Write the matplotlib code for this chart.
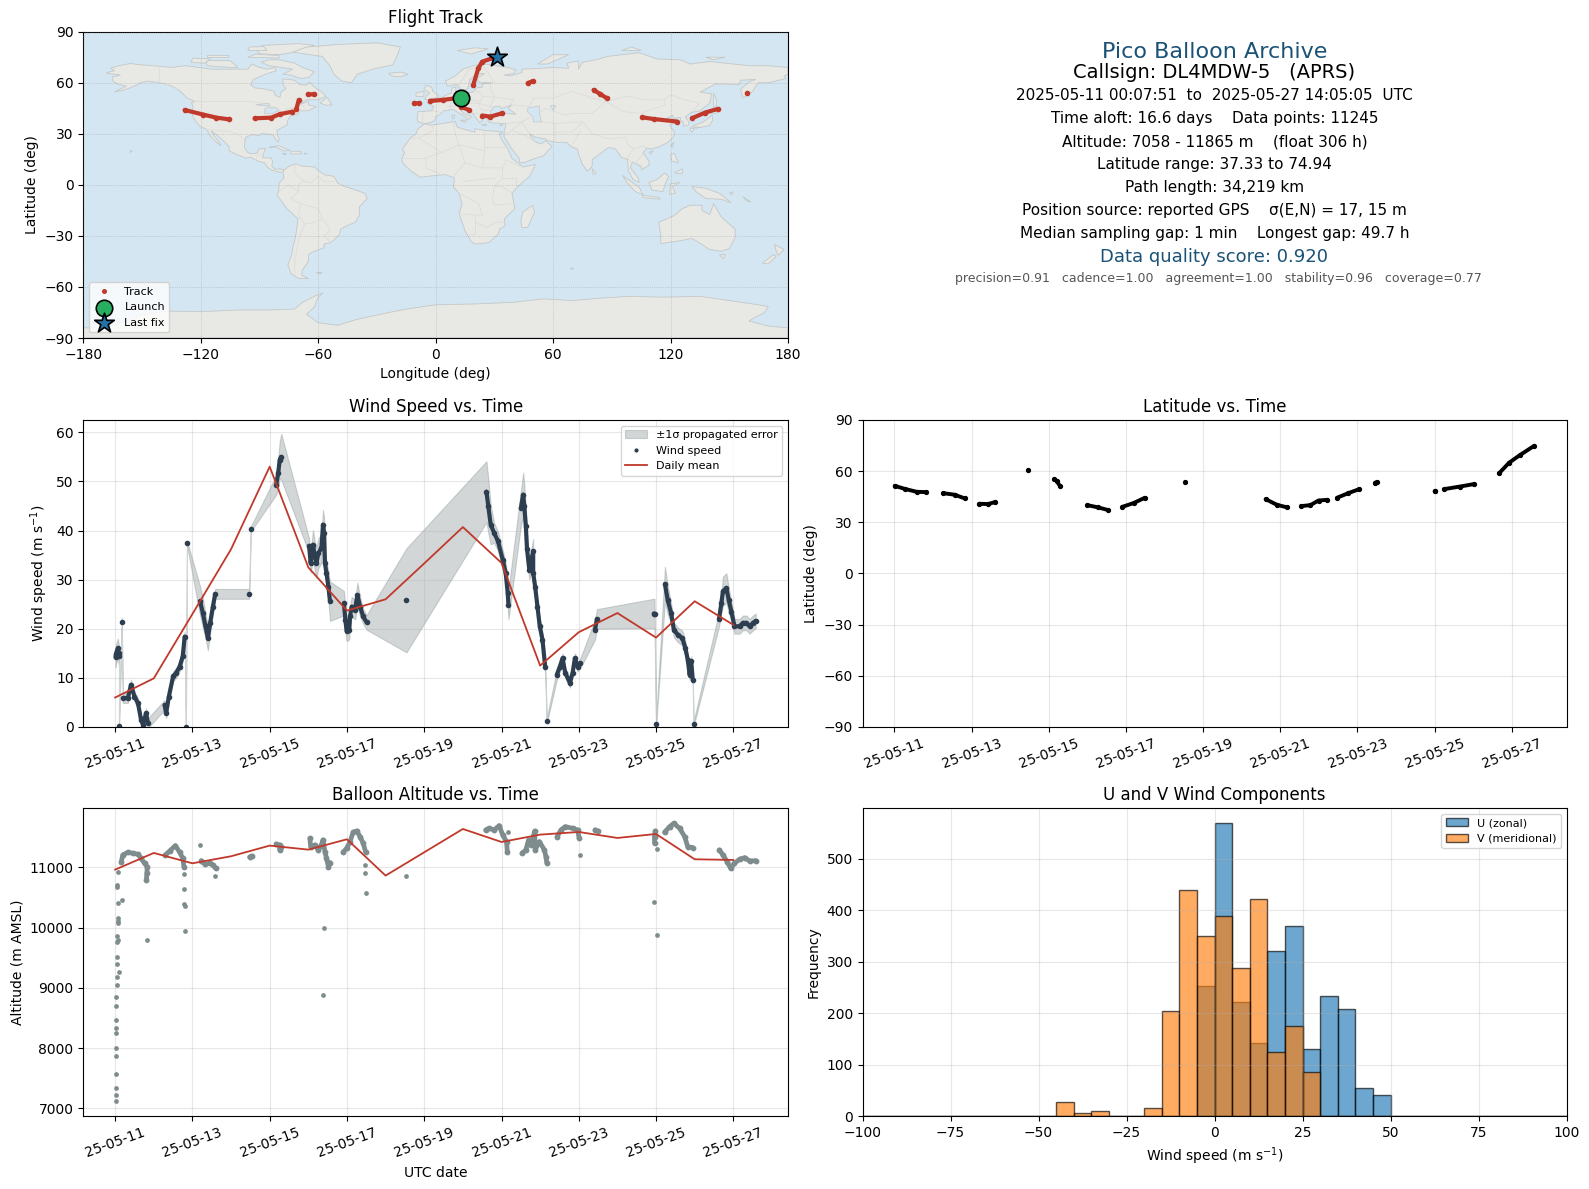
"""
Pico balloon flight summary panels for DL4MDW-5
"""

from datetime import datetime

import matplotlib

matplotlib.use("Agg")
import matplotlib.dates as mdates
import matplotlib.pyplot as plt
import numpy as np
from matplotlib.patches import Polygon

nan = float("nan")

# ---- flight track (deg), nan splits the runs of fixes ----
track_lon = [
    -128.2, -118.8, -112, -105.6, nan, -92.5, -84, -79.7, -73.3, nan, -71.2, -69.9, nan,
    -65.3, -61.9, nan, -10.9, -8.3, nan, -2.9, 3.6, 12.9, 12.7, 17, nan, 23.8, 28, 33.7, nan,
    19.2, 21.8, 23.8, 28.9, 31.4, nan, 47, 49.6, nan, 80.7, 84, 87.5, nan, 105.4, 111.3, 123.2, nan,
    130.9, 137.7, 144.1, nan, 158.9,
]
track_lat = [
    44, 41.3, 39.5, 38.5, nan, 39.1, 39.5, 41.5, 43, nan, 44.4, 49.9, nan,
    53.2, 53.2, nan, 47.9, 47.9, nan, 49.3, 49.9, 51.3, 46, 44, nan, 40.7, 40.1, 42, nan,
    58.7, 68.5, 72.4, 74.4, 74.9, nan, 59.7, 61, nan, 55.8, 53.4, 50.9, nan, 39.7, 38.7, 37.2, nan,
    39.1, 42.5, 44.6, nan, 53.8,
]
launch = (12.8, 51.3)
last_fix = (31.4, 74.9)

# ---- wind speed, days after 2025-05-11 00:00 UTC ----
wind_days = [
    0.01, 0.02, 0.05, 0.07, 0.09, 0.1, nan, 0.1, nan, 0.17, nan,
    0.2, 0.33, 0.41, 0.5, 0.59, 0.67, 0.72, 0.8, 0.85, nan,
    1.28, 1.32, 1.39, 1.5, 1.58, 1.67, 1.75, 1.8, nan, 1.83, nan, 1.86, nan,
    2.2, 2.27, 2.34, 2.4, 2.46, 2.53, 2.59, nan, 3.47, nan, 3.51, nan,
    4.17, 4.22, 4.26, 4.3, nan,
    5.02, 5.06, 5.12, 5.17, 5.21, 5.26, 5.34, 5.38, 5.41, 5.43, 5.47, 5.52, 5.56, nan,
    5.92, 5.96, 5.99, 6.06, 6.08, 6.12, 6.21, 6.27, 6.34, 6.42, 6.51, nan, 7.54, nan,
    9.61, 9.66, 9.72, 9.81, 9.91, 10.03, 10.11, 10.16, 10.18, nan,
    10.5, 10.56, 10.59, 10.63, 10.66, 10.72, 10.82, 10.82, 10.87, 10.93, 10.99, 11.06, 11.13, nan,
    11.17, nan, 11.43, 11.51, 11.58, 11.65, 11.77, 11.84, 11.9, 11.97, 12.04, nan,
    12.42, 12.47, nan, 13.94, 13.96, nan, 14.0, nan,
    14.23, 14.3, 14.39, 14.46, 14.56, 14.68, 14.76, 14.82, 14.87, 14.91, 14.95, nan, 14.97, nan,
    15.63, 15.69, 15.73, 15.82, 15.88, 15.95, 16.03, 16.16, 16.25, 16.34, 16.42, 16.51, 16.58,
]
wind_speed = [
    14.2, 14.8, 15.5, 16, 15, 14.5, nan, 0.2, nan, 21.3, nan,
    5.9, 5.9, 8.6, 6.2, 4.9, 1.5, 0.5, 2.8, 0.8, nan,
    4.5, 2.8, 6.2, 10.3, 11, 12.3, 14.4, 18.4, nan, 0.1, nan, 37.4, nan,
    25.6, 23.2, 20.5, 18.1, 21.2, 24.5, 27.1, nan, 27.1, nan, 40.3, nan,
    49.3, 51.7, 54.4, 55, nan,
    36.9, 33.4, 37.1, 34.7, 33.4, 35.4, 36.4, 41.2, 39.5, 33.4, 31.3, 28.6, 25.6, nan,
    25.2, 21.8, 19.5, 19.8, 22.5, 24.5, 23.9, 26.9, 24.5, 22.5, 21.3, nan, 25.8, nan,
    47.9, 44.9, 41.2, 39.5, 37.8, 34.1, 31.3, 27.3, 24.9, nan,
    44.5, 47.3, 44.9, 40.9, 36.2, 32, 35.8, 31.3, 28.6, 24.5, 20.5, 17.8, 12.3, nan,
    1.2, nan, 10.6, 12.3, 14, 11, 9, 11, 14, 12.3, 13, nan,
    19.8, 22, nan, 23.1, 23.1, nan, 0.6, nan,
    29.1, 25.9, 23.2, 19.8, 18.8, 18.1, 16, 13.7, 10.6, 13.4, 9.6, nan, 0.6, nan,
    22, 25.2, 27.6, 28.3, 25.9, 23.5, 20.5, 20.5, 21.2, 21.2, 20.5, 21.2, 21.6,
]
wind_sigma = [
    2, 2, 2, 2, 2, 2, nan, 0.5, nan, 1, nan,
    1, 1, 1, 1, 1, 1, 1, 1, 1, nan,
    1, 1, 1, 1, 1, 1, 1, 1, nan, 0.5, nan, 0.5, nan,
    3, 3, 2.5, 2.5, 2, 1.5, 1, nan, 1, nan, 0.5, nan,
    2, 3, 3.8, 4.7, nan,
    1.5, 2, 3, 3, 3, 3, 3, 3, 3, 2.5, 2.5, 3, 4, nan,
    2.5, 2.5, 2, 2, 2, 2, 2, 2.5, 2, 1.5, 1.5, nan, 10.6, nan,
    6.2, 5.5, 4, 2, 2, 2, 2, 2.5, 3, nan,
    3.5, 4.5, 4.5, 4, 3, 2, 2.5, 2, 1.5, 1.5, 1.5, 1.5, 1.5, nan,
    0.5, nan, 1, 1, 1, 1, 1, 1, 1, 1, 1, nan,
    2, 2, nan, 3, 3, nan, 0.5, nan,
    3.5, 3, 2, 1.5, 1.5, 1.5, 1.5, 1, 1, 1, 1, nan, 0.5, nan,
    1.5, 2, 3, 3, 2.5, 2, 1.5, 1.5, 1.5, 1.5, 1.5, 1.5, 1.5,
]
daily_days = [0, 1, 2, 3, 4, 5, 6, 7, 8, 9, 10, 11, 12, 13, 14, 15, 16]
daily_wind = [6, 9.9, 23, 36.2, 53, 32.5, 23.7, 26, 33.3, 40.7, 33.4, 12.5, 19.3, 23.2, 18.2, 25.6, 20.8]

# ---- latitude ----
lat_days = [
    0.01, 0.29, 0.58, 0.83, nan, 1.27, 1.56, 1.83, nan, 2.2, 2.43, 2.61, nan, 3.46, nan,
    4.15, 4.21, 4.29, nan, 5.0, 5.27, 5.54, nan, 5.91, 6.2, 6.49, nan, 7.52, nan,
    9.62, 9.91, 10.17, nan, 10.54, 10.78, 10.99, 11.22, nan, 11.47, 11.76, 12.05, nan, 12.46, 12.5, nan,
    14.0, 14.02, nan, 14.25, 14.66, 15.01, nan, 15.67, 15.93, 16.22, 16.58,
]
lat_deg = [
    51.4, 49.5, 47.9, 47.7, nan, 47.1, 46.2, 44, nan, 40.9, 40.7, 41.9, nan, 60.4, nan,
    55.5, 54, 51.4, nan, 40.1, 38.8, 37.2, nan, 39.1, 41.3, 44.4, nan, 53.6, nan,
    43.6, 40.3, 38.8, nan, 39.5, 40.1, 42.8, 43.2, nan, 44.4, 47.1, 49.5, nan, 53.3, 53.5, nan,
    48.2, 48.4, nan, 49.5, 51, 52.4, nan, 58.8, 65, 69.6, 74.9,
]

# ---- altitude: continuous runs, then the scattered fixes ----
alt_days = [
    0.16, 0.2, 0.33, 0.46, 0.59, 0.67, 0.76, 0.83, 0.82, 0.81, nan,
    1.3, 1.41, 1.56, 1.67, 1.75, 1.78, nan, 2.23, 2.32, 2.45, 2.53, 2.6, nan,
    3.48, 3.53, nan, 4.17, 4.26, 4.26, 4.3, nan,
    5.04, 5.06, 5.17, 5.26, 5.34, 5.38, 5.43, 5.47, 5.52, 5.56, nan,
    5.9, 5.99, 6.08, 6.16, 6.25, 6.34, 6.42, 6.48, nan,
    9.59, 9.68, 9.81, 9.94, 10.03, 10.13, 10.15, nan,
    10.53, 10.63, 10.7, 10.76, 10.86, 10.87, 10.98, 11.11, 11.15, 11.17, nan,
    11.44, 11.54, 11.65, 11.84, 11.97, 12.01, nan, 12.42, 12.49, nan,
    13.98, 13.96, 13.96, nan, 14.22, 14.35, 14.46, 14.61, 14.74, 14.82, 14.95, nan,
    15.64, 15.73, 15.84, 15.93, 16.03, 16.16, 16.29, 16.42, 16.58,
]
alt_m = [
    11094, 11205, 11249, 11232, 11216, 11149, 11066, 11011, 10900, 10790, nan,
    11205, 11271, 11360, 11249, 11149, 11011, nan, 11110, 11050, 11066, 11039, 10983, nan,
    11171, 11188, nan, 11387, 11370, 11288, 11343, nan,
    11481, 11343, 11370, 11288, 11370, 11454, 11260, 11149, 11011, 11077, nan,
    11249, 11315, 11426, 11581, 11603, 11509, 11398, 11260, nan,
    11620, 11647, 11620, 11692, 11537, 11426, 11260, nan,
    11232, 11288, 11454, 11370, 11603, 11288, 11426, 11288, 11177, 11077, nan,
    11509, 11620, 11675, 11647, 11620, 11481, nan, 11620, 11603, nan,
    11603, 11509, 11398, nan, 11581, 11675, 11730, 11647, 11509, 11343, 11326, nan,
    11288, 11205, 11094, 10983, 11066, 11133, 11160, 11105, 11110,
]
alt_spot_days = [
    0.01, 0.01, 0.01, 0.02, 0.02, 0.02, 0.02, 0.02, 0.02, 0.02, 0.03, 0.04, 0.05, 0.09, 0.05,
    0.05, 0.06, 0.07, 0.05, 0.07, 0.07, 0.07, 0.07, 0.17, 0.05, 0.05, 0.07, 0.82, 1.78, 1.78,
    1.78, 1.81, 1.81, 2.2, 2.58, 5.41, 5.38, 6.47, 6.47, 6.5, 7.54, 10.17, 12.02, 13.94, 14.02, 14.02,
]
alt_spot_m = [
    7116, 7215, 7332, 7564, 7863, 7996, 8244, 8328, 8460, 8693, 8842, 9041, 9174, 9257, 9390,
    9506, 9755, 9794, 9855, 10070, 10109, 10153, 10402, 10452, 10679, 10707, 10917, 9788, 10884, 10635,
    10386, 10358, 9938, 11365, 10851, 9987, 8875, 11033, 10900, 10568, 10851, 11581, 11199, 10419, 9871, 11299,
]
daily_alt = [10961, 11238, 11066, 11183, 11360, 11293, 11465, 10862, 11249, 11636, 11420, 11542, 11586, 11487, 11553, 11133, 11122]

# ---- wind components histogram ----
bin_edges = np.arange(-100, 101, 5)
u_low_edges = [-5, 0, 5, 10, 15, 20, 25, 30, 35, 40, 45]
u_counts = [253, 570, 221, 141, 321, 369, 131, 233, 207, 55, 40]
v_low_edges = [-45, -40, -35, -20, -15, -10, -5, 0, 5, 10, 15, 20, 25]
v_counts = [28, 6, 10, 16, 205, 440, 350, 388, 288, 422, 125, 175, 85]

# ---- summary text ----
summary_title = "Pico Balloon Archive"
summary_call = "Callsign: DL4MDW-5   (APRS)"
summary_lines = [
    "2025-05-11 00:07:51  to  2025-05-27 14:05:05  UTC",
    "Time aloft: 16.6 days    Data points: 11245",
    "Altitude: 7058 - 11865 m    (float 306 h)",
    "Latitude range: 37.33 to 74.94",
    "Path length: 34,219 km",
    "Position source: reported GPS    σ(E,N) = 17, 15 m",
    "Median sampling gap: 1 min    Longest gap: 49.7 h",
]
summary_score = "Data quality score: 0.920"
summary_parts = "precision=0.91   cadence=1.00   agreement=1.00   stability=0.96   coverage=0.77"

# ---- hand-traced coastlines (lon, lat) ----
land = [
    # North America
    [(-168, 66), (-164, 67), (-166, 68.5), (-162, 70), (-156, 71.3), (-150, 70.5), (-141, 69.7), (-135, 69),
     (-128, 70), (-124, 69.5), (-115, 68), (-108, 68), (-100, 68), (-96, 68), (-94, 71), (-90, 69), (-86, 68),
     (-82, 69), (-81.5, 67), (-87, 65), (-93, 62), (-94.5, 59), (-92.5, 57), (-88, 56.5), (-82.5, 55), (-82, 52.5),
     (-79.5, 51.5), (-79, 54.5), (-76.5, 56.5), (-78, 59), (-78, 62.3), (-72, 61.5), (-69.5, 59), (-66, 58.5),
     (-64.5, 60.3), (-61.5, 57), (-58, 54.5), (-56, 52), (-60, 50), (-66, 50), (-70, 47), (-65, 49), (-65, 47),
     (-61, 46), (-65, 43.5), (-70, 43.5), (-70, 41.7), (-74, 40.6), (-75.5, 38), (-76, 35), (-78, 34), (-81, 32),
     (-81, 30), (-80, 27), (-80.5, 25.2), (-82, 27), (-83, 29.2), (-85, 29.7), (-89, 30.2), (-90, 29), (-94, 29.5),
     (-97, 28), (-97.5, 25), (-97.7, 22), (-96, 19), (-94, 18.2), (-91, 18.7), (-90.5, 21), (-87, 21.5), (-88, 18),
     (-88.5, 16), (-84, 15.8), (-83.3, 14), (-83.7, 11), (-82, 9), (-79.5, 9.5), (-77.3, 8.5), (-78, 7.5), (-80, 7.5),
     (-83, 8.3), (-85.7, 10), (-87.5, 13), (-91, 14), (-94.5, 16.2), (-97, 15.8), (-102, 18), (-105.5, 20),
     (-105.5, 22.5), (-109, 26.5), (-112.5, 30), (-114.7, 31.7), (-113, 28.5), (-110, 24), (-110, 23), (-112, 25),
     (-115, 28.5), (-116.8, 32.5), (-120.5, 34.5), (-123, 38), (-124.3, 41), (-124, 46), (-124.7, 48.4), (-123, 49),
     (-127, 51), (-130, 54.5), (-133, 57), (-137, 59), (-141, 60), (-147, 61), (-151, 60), (-152, 59), (-156, 57),
     (-160, 55.5), (-164, 54.6), (-158, 58), (-162, 59), (-165, 61), (-165, 63.5), (-161, 64.5), (-168, 65.6)],
    # Arctic islands, Greenland, Iceland
    [(-80, 73.5), (-72, 71.5), (-68, 69), (-62, 66.5), (-65, 63), (-69, 62.5), (-74, 64.5), (-78, 65), (-73, 68),
     (-85, 70), (-89, 72), (-85, 73.5)],
    [(-117, 70), (-105, 69), (-101, 69), (-105, 73), (-117, 73)],
    [(-125, 72), (-118, 71.5), (-115, 74), (-124, 74.5)],
    [(-90, 77), (-80, 76.5), (-72, 78), (-62, 82), (-70, 83), (-88, 82), (-92, 80)],
    [(-96, 75), (-80, 74.5), (-80, 76), (-92, 76.8)],
    [(-117, 75), (-106, 75), (-106, 76.5), (-117, 76.5)],
    [(-96, 79), (-86, 79), (-88, 81.3), (-95, 81)],
    [(-59, 48), (-55.5, 51.5), (-53, 47), (-56, 46.8)],
    [(-73, 78), (-66, 81), (-50, 82.5), (-30, 83.5), (-18, 81), (-20, 75), (-22, 70.5), (-32, 68), (-40, 65),
     (-43, 60), (-48, 61), (-52, 65), (-54, 70), (-58, 75.5)],
    [(-24, 65.5), (-18, 66.3), (-14, 65), (-18, 63.4), (-22.5, 64)],
    # Caribbean, Hawaii
    [(-85, 22), (-80, 23), (-74.5, 20.2), (-77.5, 19.9), (-82, 22.4)],
    [(-74, 19.8), (-69, 19.7), (-68.5, 18.3), (-74, 18)],
    [(-78.3, 18.4), (-76.3, 18.2), (-77, 17.8)],
    [(-67.2, 18.5), (-65.7, 18.4), (-66.5, 18)],
    [(-156, 19), (-155, 19.8), (-156, 20.3)],
    # South America
    [(-77.5, 8.5), (-75, 11), (-71.5, 12.3), (-68, 11), (-62, 10.5), (-60, 8.5), (-57, 6), (-52, 5), (-50, 1),
     (-47, -0.7), (-41, -3), (-36, -5), (-35, -8), (-39, -13), (-39, -18), (-41, -22), (-45, -23.8), (-48.5, -26),
     (-49, -29), (-53.5, -34), (-57, -34.8), (-57, -37), (-62, -39), (-65, -41), (-65, -45), (-68, -50), (-68.5, -53),
     (-65, -55), (-70, -55), (-74, -52), (-75.5, -47), (-73.5, -41), (-73, -37), (-71.5, -30), (-70.3, -20), (-76, -14),
     (-81, -6), (-80, -2), (-80, 1), (-77.5, 4), (-78, 7.5)],
    [(-61, -51.5), (-58, -51.5), (-59, -52.3)],
    # Eurasia
    [(-9, 37), (-9.5, 39), (-9, 43), (-2, 43.5), (-1, 46), (-4.5, 48.3), (-1.5, 49), (2, 51), (4, 52), (8, 54),
     (8.5, 57), (10.5, 57.5), (10, 54.5), (14, 54), (19, 54.5), (21, 57), (24, 57.5), (23.5, 59.2), (29, 60), (23, 60),
     (21.5, 61), (21.5, 63), (25, 65.5), (22, 65.5), (17.5, 62), (17, 59.5), (16.5, 56.5), (13, 55.5), (11, 59), (6, 58),
     (5, 61), (10, 64), (14, 68), (19, 70), (25, 71), (31, 70), (37, 69), (41, 67.5), (40, 65.5), (35, 64.5), (38, 64),
     (44, 66), (44, 68), (54, 68.5), (60, 69), (68, 68.5), (67, 71.5), (73, 72.8), (73, 68), (75, 72), (82, 73.5),
     (88, 75.5), (104, 77.7), (113, 74), (125, 73.5), (130, 71), (140, 72.5), (160, 70), (170, 70), (180, 69),
     (180, 65), (178, 64), (179, 62.5), (170, 60), (165, 60), (163, 57), (162, 55), (157, 51), (155.7, 56), (160, 60.5),
     (163.5, 62), (156, 61.5), (155, 59), (143, 59.3), (135, 54.5), (141, 53.5), (140, 48), (135, 43.5), (130.5, 42.5),
     (127.5, 39.8), (129.5, 37), (129, 35), (126.5, 34.5), (126.5, 37), (125, 38), (125, 39.7), (121.5, 39), (121, 41),
     (118, 39), (119, 37.3), (122.5, 37), (119.5, 35), (122, 31), (121.5, 28), (118, 24.5), (114, 22.3), (110, 21),
     (108, 21.7), (106, 19), (109, 14), (109, 11.5), (105, 8.7), (105, 10.5), (100.5, 13.5), (99.5, 10), (103.5, 4),
     (104, 1.4), (101, 3), (98.5, 8), (98, 15), (95, 16), (92, 21), (89, 22), (87, 21), (82, 16.5), (80, 15), (80, 11),
     (77.5, 8), (75, 12), (73, 18), (72.5, 21), (69, 22.5), (67, 25), (61.5, 25), (57, 26), (56, 27), (51, 28), (48, 30),
     (50, 26), (51.5, 25), (54, 24), (56, 26), (59.5, 22.5), (55, 17), (52, 16), (45, 13), (43, 13), (42.5, 16), (39, 21),
     (35, 28), (35, 31), (36, 36), (30, 36.3), (27, 37), (26.5, 39.5), (29, 41), (35, 42), (41, 41.5), (37, 45), (39, 47),
     (35, 45.5), (33.5, 44.7), (33, 46), (30, 46), (28, 43), (28, 41), (26, 40.8), (23, 40.5), (24, 38), (22.5, 36.5),
     (19.5, 41), (19, 42), (14, 45.5), (12.5, 45), (14, 42), (18.5, 40), (16, 38), (16, 39.5), (12, 42), (9, 44.3),
     (4, 43.5), (3, 42), (0, 40), (-0.5, 38), (-2, 36.8), (-5.5, 36)],
    # Africa, Madagascar
    [(-5.5, 35.8), (-2, 35), (10, 37.3), (11, 34), (15, 32.5), (20, 31), (20, 33), (25, 32), (32, 31.3), (34.5, 31),
     (32.5, 30), (34, 26), (37, 21), (39, 15.5), (43, 12), (44.5, 10.5), (51, 12), (48, 5), (42, -1), (39, -5), (40.5, -14),
     (35, -20), (35.5, -24), (32.7, -26), (32, -29), (27, -34), (20, -34.8), (18, -33), (15, -27), (12, -17), (13.5, -11),
     (12, -5), (9, -1), (9.7, 4), (5, 6), (0, 5.5), (-4, 5), (-8, 4.5), (-13, 8.5), (-16.5, 12.5), (-17.3, 14.7), (-16, 19),
     (-17, 21), (-13, 27.5), (-10, 30), (-9, 33), (-6, 35.5)],
    [(49.5, -12), (50.5, -16), (47, -25), (44, -25), (43.5, -21), (44.5, -16)],
    # European and Arctic islands
    [(-5.5, 50), (1.5, 51.3), (1, 53), (-1.5, 55), (-2, 57.5), (-5, 58.5), (-6, 56), (-3, 54), (-5, 52)],
    [(-10, 52), (-6, 52), (-6, 55), (-10, 54)],
    [(12.5, 38), (15.5, 38), (15, 36.7)],
    [(8.3, 41), (9.7, 41), (9.5, 39), (8.5, 39)],
    [(23.5, 35.5), (26, 35.2), (24.5, 34.9)],
    [(32.5, 35), (34.5, 35.5), (33.5, 34.6)],
    [(11, 79), (20, 80.5), (27, 80), (18, 76.8)],
    [(52, 71), (57, 71), (68, 76.5), (60, 76.5)],
    [(95, 79), (105, 79), (100, 81)],
    [(138, 75), (148, 75), (142, 73.5)],
    # East Asia and the archipelagos
    [(142, 54), (143.5, 50), (143.5, 46.5), (142, 46), (142, 50)],
    [(130.9, 34), (135, 33.6), (140, 35), (141.5, 38), (141.3, 41), (139.8, 39.5), (136.5, 36.8), (132, 35)],
    [(140, 42), (141.5, 45.3), (145, 43.5), (143, 42)],
    [(130, 33.5), (132, 33), (131, 31), (130, 32)],
    [(132.5, 34), (134.5, 34), (133, 33)],
    [(120, 23), (121.7, 25), (121, 22)],
    [(109, 19), (111, 20), (110, 18.3)],
    [(120, 18), (122, 18.3), (124, 13), (120.5, 14)],
    [(122, 7), (126, 9.5), (126, 6.5)],
    [(80, 9.5), (82, 7), (80.5, 6)],
    [(95.5, 5.5), (104, -1.5), (106, -5.8), (102, -4), (98, 1)],
    [(105.5, -6), (114.5, -7.5), (114.5, -8.5), (106, -7.5)],
    [(109, 1.5), (113, 3), (117, 7), (119, 5), (117.5, 1), (116, -4), (110.5, -3)],
    [(119.5, -5.5), (120, 0.5), (125, 1.5), (121, -1), (122.5, -5)],
    [(131, -1), (138, -2), (145, -5), (151, -10.5), (146, -8.5), (138, -8), (133, -4)],
    [(150, -5), (152, -4), (151.5, -6)],
    [(157, -7), (161, -10), (159, -9.5)],
    # Oceania
    [(114, -22), (122, -18), (126, -14), (130, -12), (136, -12), (136, -15), (140, -17.5), (142, -11), (146, -19),
     (153, -26), (153, -31), (150, -37.5), (146, -39), (140, -38), (136, -35), (131, -31.5), (124, -33), (115, -34.5),
     (115, -30)],
    [(145, -41), (148, -41), (147, -43.5)],
    [(173, -35), (178, -38), (175, -41.5), (174, -39)],
    [(172.5, -41), (174, -42), (170, -46.5), (167, -46)],
    [(68.7, -49), (70.5, -49), (69.5, -49.8)],
    # Antarctica
    [(-180, -84), (-170, -84), (-158, -80), (-148, -76), (-136, -74.2), (-120, -74.5), (-100, -73.5), (-85, -73.5),
     (-72, -73), (-68, -69), (-62, -65.5), (-57.5, -63.5), (-60, -66), (-62, -72), (-66, -76), (-60, -81), (-50, -82.5),
     (-40, -79), (-28, -76), (-15, -73), (0, -70.5), (20, -70), (40, -69), (55, -67), (70, -68), (85, -66.5), (100, -65.5),
     (115, -66), (135, -65.5), (150, -68), (165, -70.5), (170, -71.5), (168, -75), (163, -78), (160, -80), (170, -83),
     (180, -84), (180, -90), (-180, -90)],
]
inland_water = [
    [(47, 45), (53, 46.5), (53, 42), (54, 37), (50, 37), (49.5, 40), (47, 43)],
    [(-92, 47), (-85, 48), (-85, 46.5)],
    [(-87.5, 42), (-87, 45), (-85, 46), (-84, 45), (-82, 45.5), (-80, 44), (-83, 42)],
    [(58.5, 46.5), (61.5, 46.5), (60, 44)],
]
borders = [
    [(-123, 49), (-95, 49), (-89, 48), (-83, 46), (-82, 43), (-79, 43), (-75, 45), (-71, 45), (-68, 47), (-67, 45)],
    [(-141, 69.7), (-141, 60), (-135, 58.5), (-130, 55)],
    [(-117, 32.5), (-108, 31.5), (-106, 31.7), (-101, 29.7), (-97.3, 26)],
    [(-92, 14.6), (-91, 17), (-89, 18)],
    [(-70, -18), (-69, -11), (-74, -8), (-70, -4), (-70, 1), (-67, 2), (-64, 1), (-60, 5), (-57, 2), (-52, 2)],
    [(-69, -11), (-60, -14), (-58, -20), (-55, -24), (-54, -27), (-57, -30), (-53.5, -33.7)],
    [(-70, -18), (-67, -23), (-70, -32), (-72, -45), (-72, -52)],
    [(-58, -20), (-62, -22), (-67, -23)],
    [(-72, 12), (-72, 7), (-67, 2)],
    [(-80, -4), (-75, 0), (-70, -4)],
    [(-13, 27.5), (-8.7, 27.5), (-1, 32), (-2, 35)],
    [(-8.7, 27.5), (3, 19), (12, 23.5), (10, 30), (9, 37)],
    [(12, 23.5), (25, 20), (25, 32)],
    [(25, 22), (36, 22)],
    [(25, 20), (24, 10), (34, 10), (36, 14.5), (43, 11)],
    [(34, 10), (34, 4), (41, 4), (41, -1.7)],
    [(34, 4), (30, -1), (34, -1), (39, -4.7)],
    [(30, -1), (29, -8), (30, -12), (40, -11)],
    [(12, -5), (22, -11), (24, -18), (12, -17)],
    [(20, -18), (20, -29), (17, -29)],
    [(20, -22), (26, -25), (31, -22), (35, -22)],
    [(3, 19), (-5, 16), (-5, 10), (3, 6)],
    [(-16, 16), (-5, 16)],
    [(12, 23.5), (15, 13), (9, 4.5)],
    [(15, 13), (24, 10)],
    [(14, 2), (30, 4)],
    [(-2, 43.5), (3, 42.5)],
    [(-7, 42), (-7, 37)],
    [(2.5, 51), (8, 49), (7, 44)],
    [(14, 54), (15, 51), (19, 49.5), (23, 49), (24, 52), (23, 54), (21, 55)],
    [(15, 51), (13, 48), (17, 48), (22, 48), (29, 45.5)],
    [(6, 46), (13, 46.5), (14, 45.5)],
    [(22, 48), (23, 44), (28, 43.8)],
    [(20, 42), (26, 41.5)],
    [(28, 46), (30, 51.5), (24, 52)],
    [(30, 51.5), (40, 50), (38, 47)],
    [(28, 56), (30, 51.5)],
    [(28, 56), (28, 60)],
    [(12, 59), (17, 68), (25, 69), (30, 60)],
    [(38, 47), (48, 46), (50, 51), (60, 51), (70, 55), (80, 51), (87, 49)],
    [(87, 49), (98, 52), (107, 50), (117, 50), (120, 53), (127, 50), (135, 48), (131, 43)],
    [(87, 49), (96, 43), (105, 42), (112, 45), (117, 47), (117, 50)],
    [(53, 42), (56, 45), (66, 41), (70, 42), (80, 42), (87, 49)],
    [(54, 37), (61, 36), (61, 31), (61, 25)],
    [(61, 36), (71, 37), (75, 37), (78, 33), (80, 30), (88, 27), (97, 28), (98, 24), (101, 21), (106, 23), (108, 21.7)],
    [(61, 31), (70, 31), (75, 37)],
    [(70, 24), (74, 32)],
    [(36, 36), (44, 37), (48, 39.5)],
    [(44, 37), (46, 33), (48, 30)],
    [(35, 29.5), (39, 32), (44, 37)],
    [(39, 32), (46, 29), (50, 26)],
    [(101, 21), (98, 16), (100, 13)],
    [(102, 13), (106, 18)],
    [(102, 13), (106, 11)],
]

# Colours
NAVY = "#2c3e50"
SLATE = "#7f8c8d"
RED = "#c0392b"
TITLE_BLUE = "#1a5276"
OCEAN = "#d4e6f1"
LAND = "#e8e8e4"
COAST = "#c4c8c8"
BORDER = "#dcdcd8"

W, H = 1589, 1189
T0 = mdates.date2num(datetime(2025, 5, 11))
X_MIN = T0 + 0.005 - 0.829
X_MAX = T0 + 16.586 + 0.829

fig = plt.figure(figsize=(W / 100, H / 100), dpi=100)


def add_ax(left, top, right, bottom):
    """Axes placed by pixel edges"""
    return fig.add_axes([left / W, 1 - bottom / H, (right - left) / W, (bottom - top) / H])


def date_axis(ax):
    ax.set_xlim(X_MIN, X_MAX)
    ax.xaxis.set_major_locator(mdates.DayLocator(bymonthday=range(11, 28, 2)))
    ax.xaxis.set_major_formatter(mdates.DateFormatter("%y-%m-%d"))
    ax.tick_params(axis="x", labelrotation=20)
    ax.grid(alpha=0.3)


LEFT = (83.3, 788)
RIGHT = (862.5, 1566.5)

ax_map = add_ax(LEFT[0], 31.7, LEFT[1], 338)
ax_text = add_ax(RIGHT[0], 31.7, RIGHT[1], 338)
ax_wind = add_ax(LEFT[0], 420, LEFT[1], 727)
ax_lat = add_ax(RIGHT[0], 420, RIGHT[1], 727)
ax_alt = add_ax(LEFT[0], 808, LEFT[1], 1116)
ax_hist = add_ax(RIGHT[0], 808, RIGHT[1], 1116)

# ============ MAP ============
ax_map.set_facecolor(OCEAN)
for line in borders:
    xs, ys = zip(*line)
    ax_map.plot(xs, ys, color=BORDER, lw=0.6, zorder=2)
for poly in land:
    ax_map.add_patch(Polygon(poly, closed=True, facecolor=LAND, edgecolor=COAST, lw=0.6, zorder=1))
for poly in inland_water:
    ax_map.add_patch(Polygon(poly, closed=True, facecolor=OCEAN, edgecolor=COAST, lw=0.5, zorder=2))
ax_map.plot(track_lon, track_lat, "-o", color=RED, lw=3, ms=3, zorder=4, solid_capstyle="round")
ax_map.plot([], [], "o", color=RED, ms=2.6, label="Track")
ax_map.scatter(*launch, s=140, color="#27ae60", edgecolor="black", lw=1.2, zorder=5, label="Launch")
ax_map.scatter(*last_fix, s=220, marker="*", color="#2471a3", edgecolor="black", lw=1.2, zorder=6, label="Last fix")
ax_map.set_xlim(-180, 180)
ax_map.set_ylim(-90, 90)
ax_map.set_xticks(np.arange(-180, 181, 60))
ax_map.set_yticks(np.arange(-90, 91, 30))
ax_map.grid(color="gray", lw=0.5, ls=":", alpha=0.5, zorder=3)
ax_map.set_axisbelow(False)
ax_map.set_xlabel("Longitude (deg)")
ax_map.set_ylabel("Latitude (deg)")
ax_map.set_title("Flight Track", fontsize=12)
ax_map.legend(loc="lower left", fontsize=8)

# ============ SUMMARY TEXT ============
ax_text.axis("off")
ax_text.set_xlim(0, 1)
ax_text.set_ylim(0, 1)
ax_text.text(0.5, 0.933, summary_title, ha="center", va="center", fontsize=16, color=TITLE_BLUE)
ax_text.text(0.5, 0.866, summary_call, ha="center", va="center", fontsize=14)
line_pos = np.linspace(0.792, 0.340, len(summary_lines))
for y, txt in zip(line_pos, summary_lines):
    ax_text.text(0.5, y, txt, ha="center", va="center", fontsize=11)
ax_text.text(0.5, 0.264, summary_score, ha="center", va="center", fontsize=13, color=TITLE_BLUE)
ax_text.text(0.506, 0.194, summary_parts, ha="center", va="center", fontsize=9, color="#555555")

# ============ WIND SPEED ============
days = T0 + np.array(wind_days)
speed = np.array(wind_speed)
sigma = np.array(wind_sigma)
ok = ~np.isnan(speed)
ax_wind.fill_between(days[ok], (speed - sigma)[ok], (speed + sigma)[ok], color=SLATE, alpha=0.35, lw=0.8,
                     label="±1σ propagated error")
ax_wind.plot(days, speed, "-o", color=NAVY, lw=3, ms=3, solid_capstyle="round")
ax_wind.plot([], [], "o", color=NAVY, ms=2, label="Wind speed")
ax_wind.plot(T0 + np.array(daily_days), daily_wind, color=RED, lw=1.3, label="Daily mean")
ax_wind.set_ylim(0, 62.5)
ax_wind.set_ylabel("Wind speed (m s$^{-1}$)")
ax_wind.set_title("Wind Speed vs. Time", fontsize=12)
date_axis(ax_wind)
ax_wind.legend(loc="upper right", fontsize=8)

# ============ LATITUDE ============
ax_lat.plot(T0 + np.array(lat_days), lat_deg, "-o", color="black", lw=2.8, ms=2.8, solid_capstyle="round")
ax_lat.set_ylim(-90, 90)
ax_lat.set_yticks(np.arange(-90, 91, 30))
ax_lat.set_ylabel("Latitude (deg)")
ax_lat.set_title("Latitude vs. Time", fontsize=12)
date_axis(ax_lat)

# ============ ALTITUDE ============
ax_alt.plot(T0 + np.array(alt_days), alt_m, "-o", color=SLATE, lw=3.4, ms=3.2, solid_capstyle="round")
ax_alt.plot(T0 + np.array(alt_spot_days), alt_spot_m, "o", color=SLATE, ms=2.4)
ax_alt.plot(T0 + np.array(daily_days), daily_alt, color=RED, lw=1.3)
ax_alt.set_ylim(6872, 11984)
ax_alt.set_yticks(np.arange(7000, 11001, 1000))
ax_alt.set_xlabel("UTC date")
ax_alt.set_ylabel("Altitude (m AMSL)")
ax_alt.set_title("Balloon Altitude vs. Time", fontsize=12)
date_axis(ax_alt)

# ============ U / V HISTOGRAM ============
ax_hist.hist(np.array(u_low_edges) + 2.5, bins=bin_edges, weights=u_counts, alpha=0.65, color="#1f77b4",
             edgecolor="black", label="U (zonal)")
ax_hist.hist(np.array(v_low_edges) + 2.5, bins=bin_edges, weights=v_counts, alpha=0.65, color="#ff7f0e",
             edgecolor="black", label="V (meridional)")
ax_hist.set_xlim(-100, 100)
ax_hist.set_ylim(0, 598.5)
ax_hist.set_xlabel("Wind speed (m s$^{-1}$)")
ax_hist.set_ylabel("Frequency")
ax_hist.set_title("U and V Wind Components", fontsize=12)
ax_hist.grid(alpha=0.3)
ax_hist.legend(loc="upper right", fontsize=8)

fig.savefig("out.png", dpi=100)
plt.close(fig)
